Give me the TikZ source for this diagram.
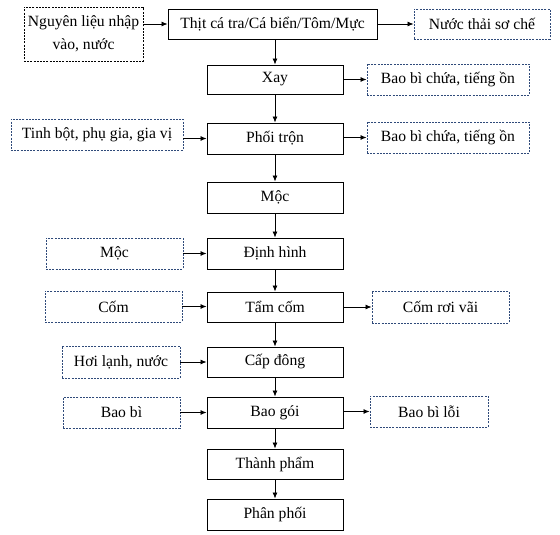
\documentclass[tikz,border=0pt]{standalone}
\usepackage{fontspec}
\setmainfont{Liberation Serif}
\usetikzlibrary{arrows.meta}
\definecolor{dashblue}{HTML}{2F4A7A}
\begin{document}
\begin{tikzpicture}[x=1bp,y=-1bp,
  every node/.style={font=\fontsize{15.7}{25}\selectfont, inner sep=0pt, align=center},
  mainbox/.style={draw, line width=0.9bp, minimum width=136bp, minimum height=30bp},
  sidebox/.style={draw=dashblue, dash pattern=on 2bp off 1.2bp, line width=0.9bp},
  arr/.style={-{Latex[length=6bp,width=5bp]}, line width=0.8bp}]
\useasboundingbox (0,0) rectangle (560,535);
% main column
\node[mainbox, minimum width=209bp] (thit) at (272.5,24) {Thịt cá tra/Cá biển/Tôm/Mực};
\node[mainbox, minimum height=29bp] (xay) at (275,79.5) {Xay};
\node[mainbox, minimum height=31bp] (phoi) at (275,138.5) {Phối trộn};
\node[mainbox, minimum height=31bp] (moc) at (275,197.5) {Mộc};
\node[mainbox, minimum height=31bp] (dinh) at (275,253.5) {Định hình};
\node[mainbox] (tam) at (275,307) {Tẩm cốm};
\node[mainbox] (cap) at (275,362) {Cấp đông};
\node[mainbox, minimum height=31bp] (goi) at (275,412.5) {Bao gói};
\node[mainbox] (thanh) at (275,464) {Thành phẩm};
\node[mainbox, minimum height=31bp] (phan) at (275,514.5) {Phân phối};
% left inputs
\node[sidebox, draw=black, minimum width=119bp, minimum height=54bp] (nl) at (83.5,34) {\raisebox{-2bp}{Nguyên liệu nhập}\\vào, nước};
\node[sidebox, minimum width=172bp, minimum height=31bp] (tinh) at (97,134.5) {Tinh bột, phụ gia, gia vị};
\node[sidebox, minimum width=137bp, minimum height=31bp] (mocl) at (114.5,253.5) {Mộc};
\node[sidebox, minimum width=137bp, minimum height=31bp] (com) at (113.5,306.5) {Cốm};
\node[sidebox, minimum width=118bp, minimum height=32bp] (hoi) at (121,362) {Hơi lạnh, nước};
\node[sidebox, minimum width=117bp, minimum height=31bp] (bbi) at (121.5,412.5) {Bao bì};
% right outputs
\node[sidebox, minimum width=136bp, minimum height=30bp] (nuoc) at (482,24) {Nước thải sơ chế};
\node[sidebox, minimum width=162bp, minimum height=31bp] (bb1) at (448,79.5) {Bao bì chứa, tiếng ồn};
\node[sidebox, minimum width=162bp, minimum height=31bp] (bb2) at (448,137.5) {Bao bì chứa, tiếng ồn};
\node[sidebox, minimum width=137bp, minimum height=32bp] (roi) at (440.5,307) {Cốm rơi vãi};
\node[sidebox, minimum width=118bp, minimum height=31bp] (loi) at (429,411.5) {Bao bì lỗi};
% vertical flow
\draw[arr] (thit.south -| xay.north) -- (xay.north);
\draw[arr] (xay) -- (phoi);
\draw[arr] (phoi) -- (moc);
\draw[arr] (moc) -- (dinh);
\draw[arr] (dinh) -- (tam);
\draw[arr] (tam) -- (cap);
\draw[arr] (cap) -- (goi);
\draw[arr] (goi) -- (thanh);
\draw[arr] (thanh) -- (phan);
% inputs
\draw[arr] (thit.west -| nl.east) -- (thit.west);
\draw[arr] (phoi.west -| tinh.east) -- (phoi.west);
\draw[arr] (mocl.east) -- (dinh.west);
\draw[arr] (com.east) -- (com.east -| tam.west);
\draw[arr] (hoi.east) -- (hoi.east -| cap.west);
\draw[arr] (bbi.east) -- (bbi.east -| goi.west);
% outputs
\draw[arr] (thit.east) -- (thit.east -| nuoc.west);
\draw[arr] (xay.east) -- (xay.east -| bb1.west);
\draw[arr] (bb2.west -| phoi.east) -- (bb2.west);
\draw[arr] (tam.east) -- (tam.east -| roi.west);
\draw[arr] (loi.west -| goi.east) -- (loi.west);
\end{tikzpicture}
\end{document}
